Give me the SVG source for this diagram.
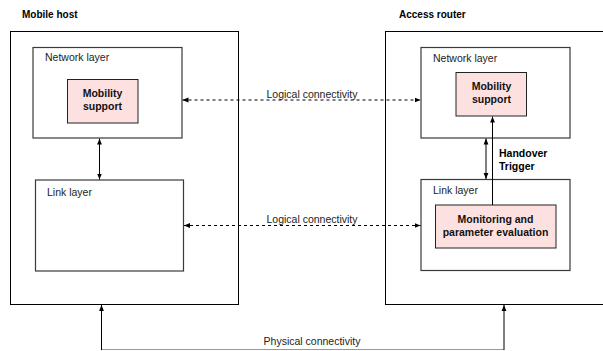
<svg xmlns="http://www.w3.org/2000/svg" width="603" height="351" viewBox="0 0 603 351">
  <style>
    .outer { fill: #ffffff; stroke: #000000; stroke-width: 1; }
    .layer { fill: #ffffff; stroke: #3a3a3a; stroke-width: 1.2; }
    .func { fill: #fde1e1; stroke: #222222; stroke-width: 1; }
    .title { font-family: "Liberation Sans", Arial, sans-serif; font-size: 10px; font-weight: bold; fill: #000; }
    .lbl { font-family: "Liberation Sans", Arial, sans-serif; font-size: 10.5px; fill: #222; }
    .blbl { font-family: "Liberation Sans", Arial, sans-serif; font-size: 10.5px; font-weight: bold; fill: #111; text-anchor: middle; }
    .solid { stroke: #000; stroke-width: 1; fill: none; }
    .dash { stroke: #000; stroke-width: 1; stroke-dasharray: 3 3; fill: none; }
    .phys { stroke: #999; stroke-width: 1; fill: none; }
  </style>
  <defs>
    <marker id="ah" viewBox="0 0 10 10" refX="10" refY="5" markerWidth="6" markerHeight="6" orient="auto-start-reverse" markerUnits="userSpaceOnUse">
      <path d="M0,1 L10,5 L0,9 Z" fill="#000"/>
    </marker>
  </defs>

  <g id="mobile-host">
    <text class="title" x="22" y="18">Mobile host</text>
    <rect class="outer" x="10.5" y="31.5" width="228" height="273"/>
  </g>
  <g id="mh-network-layer">
    <rect class="layer" x="33" y="47.5" width="149" height="90.5"/>
    <text class="lbl" x="45" y="61">Network layer</text>
  </g>
  <g id="mh-mobility-support">
    <rect class="func" x="67.5" y="79.5" width="70.5" height="43.5"/>
    <text class="blbl" x="102.5" y="97">Mobility</text>
    <text class="blbl" x="102.5" y="110">support</text>
  </g>
  <g id="mh-link-layer">
    <rect class="layer" x="35.5" y="180" width="148" height="91"/>
    <text class="lbl" x="47" y="196">Link layer</text>
  </g>

  <g id="access-router">
    <text class="title" x="399" y="18">Access router</text>
    <rect class="outer" x="385.5" y="31.5" width="220" height="273"/>
  </g>
  <g id="ar-network-layer">
    <rect class="layer" x="421" y="47.5" width="149" height="90.5"/>
    <text class="lbl" x="433" y="62">Network layer</text>
  </g>
  <g id="ar-mobility-support">
    <rect class="func" x="456" y="72.5" width="70.5" height="43.5"/>
    <text class="blbl" x="491.5" y="90">Mobility</text>
    <text class="blbl" x="491.5" y="103">support</text>
  </g>
  <g id="ar-link-layer">
    <rect class="layer" x="421" y="179.5" width="149" height="91"/>
    <text class="lbl" x="433" y="194">Link layer</text>
  </g>
  <g id="ar-monitoring">
    <rect class="func" x="435.5" y="205" width="120.5" height="43"/>
    <text class="blbl" x="495.5" y="222.5">Monitoring and</text>
    <text class="blbl" x="495.5" y="235.5">parameter evaluation</text>
  </g>

  <g id="connectors">
    <!-- logical links between peer layers -->
    <line class="dash" x1="182.5" y1="100" x2="420.5" y2="100" marker-start="url(#ah)" marker-end="url(#ah)"/>
    <text class="lbl" x="312" y="97.5" text-anchor="middle">Logical connectivity</text>
    <line class="dash" x1="184" y1="225.5" x2="420.5" y2="225.5" marker-start="url(#ah)" marker-end="url(#ah)"/>
    <text class="lbl" x="312" y="222.5" text-anchor="middle">Logical connectivity</text>

    <!-- inter-layer links -->
    <line class="solid" x1="99.5" y1="138.5" x2="99.5" y2="179.5" marker-start="url(#ah)" marker-end="url(#ah)"/>
    <line class="solid" x1="486" y1="138.5" x2="486" y2="179" marker-start="url(#ah)" marker-end="url(#ah)"/>
    <line class="solid" x1="492.5" y1="205" x2="492.5" y2="116.5" marker-end="url(#ah)"/>
    <text class="title" x="499" y="157" style="font-size:10.5px">Handover</text>
    <text class="title" x="499" y="170" style="font-size:10.5px">Trigger</text>

    <!-- physical link -->
    <polyline class="phys" points="101.5,349.5 504,349.5"/>
    <line class="solid" x1="101.5" y1="350" x2="101.5" y2="305" marker-end="url(#ah)"/>
    <line class="solid" x1="504" y1="350" x2="504" y2="305" marker-end="url(#ah)"/>
    <text class="lbl" x="312" y="345" text-anchor="middle">Physical connectivity</text>
  </g>
</svg>
